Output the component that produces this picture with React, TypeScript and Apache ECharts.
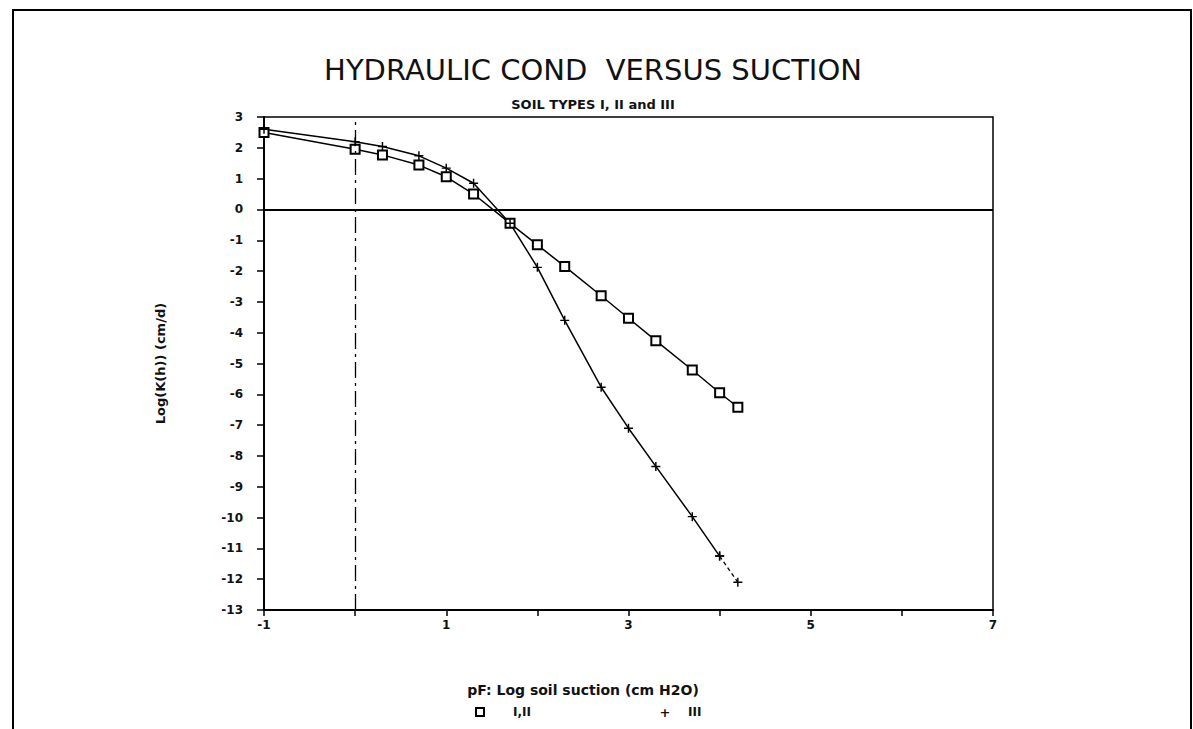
import React, { useEffect, useRef } from "react";
import * as echarts from "echarts";

const pF = [-1, 0, 0.3, 0.7, 1.0, 1.3, 1.7, 2.0, 2.3, 2.7, 3.0, 3.3, 3.7, 4.0, 4.2];
const logK_I_II = [2.5, 1.95, 1.77, 1.44, 1.06, 0.5, -0.45, -1.15, -1.85, -2.8, -3.53, -4.26, -5.21, -5.95, -6.42];
const logK_III = [2.6, 2.2, 2.04, 1.74, 1.34, 0.85, -0.45, -1.88, -3.6, -5.77, -7.1, -8.34, -9.97, -11.25, -12.1];
const xTickLabels = [-1, 1, 3, 5, 7];

const titleText = "HYDRAULIC COND  VERSUS SUCTION";
const subTitleText = "SOIL TYPES I, II and III";
const yName = "Log(K(h)) (cm/d)";
const xName = "pF: Log soil suction (cm H2O)";
const seriesNames = ["I,II", "III"];

const plusPath = "path://M4.2,0H5.8V4.2H10V5.8H5.8V10H4.2V5.8H0V4.2H4.2Z";

export default function App() {
  const ref = useRef<HTMLDivElement>(null);
  useEffect(() => {
    if (!ref.current) return;
    const chart = echarts.init(ref.current, undefined, { renderer: "svg" });
    const d1 = pF.map((x, i) => [x, logK_I_II[i]]);
    const d3 = pF.map((x, i) => [x, logK_III[i]]);
    const n = pF.length;
    const font = "DejaVu Sans";
    chart.setOption({
      animation: false,
      backgroundColor: "#fff",
      title: [
        {
          text: titleText,
          left: 588,
          top: 50,
          textAlign: "center",
          textStyle: {
            fontFamily: "'DejaVu Sans ExtraLight', 'DejaVu Sans'",
            fontWeight: "normal",
            fontSize: 29,
            color: "#111",
          },
        },
        {
          text: subTitleText,
          left: 588,
          top: 93,
          textAlign: "center",
          textStyle: { fontFamily: font, fontWeight: "bold", fontSize: 13, color: "#111" },
        },
      ],
      grid: {
        left: 264,
        right: 200,
        top: 117,
        bottom: 119,
        show: true,
        borderColor: "#000",
        borderWidth: 1.5,
      },
      xAxis: {
        type: "value",
        min: -1,
        max: 7,
        interval: 1,
        axisLine: { show: true, onZero: false, lineStyle: { color: "#000", width: 2 } },
        axisTick: { show: true, length: 6, lineStyle: { color: "#000", width: 1.5 } },
        splitLine: { show: false },
        axisLabel: {
          margin: 9,
          color: "#111",
          fontFamily: font,
          fontWeight: "bold",
          fontSize: 12,
          formatter: (v: number) => (xTickLabels.includes(v) ? String(v) : ""),
        },
      },
      yAxis: {
        type: "value",
        min: -13,
        max: 3,
        interval: 1,
        name: yName,
        nameLocation: "middle",
        nameGap: 97,
        nameTextStyle: { fontFamily: font, fontWeight: "bold", fontSize: 13, color: "#111" },
        axisLine: { show: true, onZero: false, lineStyle: { color: "#000", width: 2 } },
        axisTick: { show: true, length: 7, lineStyle: { color: "#000", width: 1.5 } },
        splitLine: { show: false },
        axisLabel: { margin: 21, color: "#111", fontFamily: font, fontWeight: "bold", fontSize: 12 },
      },
      series: [
        {
          name: seriesNames[0],
          type: "line",
          data: d1,
          symbol: "emptyRect",
          symbolSize: 9,
          itemStyle: { color: "#000", borderWidth: 1.8 },
          lineStyle: { color: "#000", width: 1.5 },
          markLine: {
            silent: true,
            symbol: "none",
            label: { show: false },
            lineStyle: { color: "#000", width: 2, type: "solid" },
            data: [{ yAxis: 0 }],
          },
        },
        {
          name: seriesNames[1],
          type: "line",
          data: d3.slice(0, n - 1),
          symbol: plusPath,
          symbolSize: 9,
          itemStyle: { color: "#000" },
          lineStyle: { color: "#000", width: 1.5 },
          markLine: {
            silent: true,
            symbol: "none",
            label: { show: false },
            lineStyle: { color: "#000", width: 1.3, type: [16, 5, 3, 5] },
            data: [{ xAxis: 0 }],
          },
        },
        {
          name: seriesNames[1] + " tail",
          type: "line",
          data: d3.slice(n - 2),
          symbol: plusPath,
          symbolSize: 9,
          itemStyle: { color: "#000" },
          lineStyle: { color: "#000", width: 1.3, type: [4, 3] },
        },
      ],
      graphic: [
        {
          type: "polyline",
          shape: { points: [[13, 729], [13, 10], [1191, 10], [1191, 729]] },
          style: { stroke: "#000", lineWidth: 2, fill: "none" },
          silent: true,
        },
        {
          type: "text",
          x: 583,
          y: 690,
          style: {
            text: xName,
            fontFamily: font,
            fontWeight: "bold",
            fontSize: 14,
            fill: "#111",
            textAlign: "center",
            textVerticalAlign: "middle",
          },
        },
        {
          type: "rect",
          shape: { x: 476, y: 708, width: 8, height: 8 },
          style: { stroke: "#000", lineWidth: 2, fill: "#fff" },
        },
        {
          type: "text",
          x: 513,
          y: 712,
          style: { text: seriesNames[0], fontFamily: font, fontWeight: "bold", fontSize: 12, fill: "#111", textVerticalAlign: "middle" },
        },
        {
          type: "text",
          x: 665,
          y: 712,
          style: { text: "+", fontFamily: font, fontWeight: "bold", fontSize: 13, fill: "#111", textAlign: "center", textVerticalAlign: "middle" },
        },
        {
          type: "text",
          x: 688,
          y: 712,
          style: { text: seriesNames[1], fontFamily: font, fontWeight: "bold", fontSize: 12, fill: "#111", textVerticalAlign: "middle" },
        },
      ],
    });
    return () => chart.dispose();
  }, []);
  return (
    <div
      ref={ref}
      style={{ position: "fixed", left: 0, top: 0, width: 1193, height: 729, background: "#fff" }}
    />
  );
}
